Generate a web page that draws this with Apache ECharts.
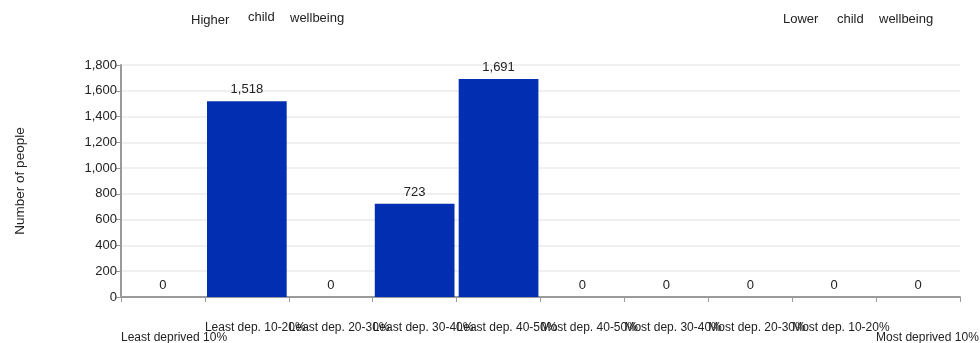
<!DOCTYPE html>
<html>
<head>
<meta charset="utf-8">
<style>html,body{margin:0;padding:0;background:#fff}#c{width:980px;height:343px}</style>
<script src="https://cdn.jsdelivr.net/npm/echarts@6/dist/echarts.min.js"></script>
</head>
<body>
<div id="c"></div>
<script>
const categories = ['Least deprived 10%','Least dep. 10-20%','Least dep. 20-30%','Least dep. 30-40%','Least dep. 40-50%','Most dep. 40-50%','Most dep. 30-40%','Most dep. 20-30%','Most dep. 10-20%','Most deprived 10%'];
const values = [0, 1518, 0, 723, 1691, 0, 0, 0, 0, 0];
const yTicks = [0, 200, 400, 600, 800, 1000, 1200, 1400, 1600, 1800];
const headerWords = [
  {text:'Higher', left:191, top:14},
  {text:'child', left:248, top:11},
  {text:'wellbeing', left:290, top:12},
  {text:'Lower', left:783, top:13},
  {text:'child', left:837, top:13},
  {text:'wellbeing', left:879, top:13}
];
const FONT = 'Arial, "Liberation Sans", sans-serif';
const fmt = v => v.toString().replace(/\B(?=(\d{3})+(?!\d))/g, ',');
const chart = echarts.init(document.getElementById('c'));
chart.setOption({
  animation: false,
  title: headerWords.map(w => ({text: w.text, left: w.left, top: w.top, padding: 0,
    textStyle: {fontSize: 13, fontWeight: 'normal', color: '#222', fontFamily: FONT}})),
  grid: {left: 121, right: 20, top: 65, bottom: 46, outerBoundsMode: 'none', containLabel: false},
  xAxis: [{
    type: 'category',
    position: 'bottom',
    data: categories.concat(['']),
    boundaryGap: false,
    axisLine: {lineStyle: {color: '#9a9a9a', width: 2}},
    axisTick: {show: true, length: 5, interval: 0, lineStyle: {color: '#9a9a9a'}},
    axisLabel: {
      interval: 0, align: 'left', margin: 25, color: '#222', fontSize: 12, fontFamily: FONT,
      hideOverlap: false,
      formatter: (v, i) => (i === 0 || i === categories.length - 1) ? '{lo|' + v + '}' : v,
      rich: {lo: {fontSize: 12, fontFamily: FONT, color: '#222', padding: [10, 0, 0, 0]}}
    },
    splitLine: {show: false}
  }, {
    type: 'category',
    position: 'top',
    data: categories,
    boundaryGap: true,
    axisLine: {show: false},
    axisTick: {show: false},
    axisLabel: {show: false},
    splitLine: {show: false}
  }],
  yAxis: {
    type: 'value',
    min: yTicks[0], max: yTicks[yTicks.length - 1], interval: 200,
    name: 'Number of people',
    nameLocation: 'middle',
    nameGap: 94,
    nameTextStyle: {fontSize: 13.5, color: '#222', fontFamily: FONT},
    axisLine: {show: true, lineStyle: {color: '#9a9a9a', width: 2}},
    axisTick: {show: true, length: 5, lineStyle: {color: '#9a9a9a'}},
    axisLabel: {margin: 4, color: '#222', fontSize: 13, fontFamily: FONT, formatter: v => fmt(v)},
    splitLine: {show: true, lineStyle: {color: '#ebebeb', width: 1.5}}
  },
  series: [{
    type: 'bar',
    xAxisIndex: 1,
    data: values,
    barCategoryGap: '5%',
    itemStyle: {color: '#022fb2'},
    label: {show: true, position: 'top', distance: 5, color: '#222', fontSize: 13, fontFamily: FONT,
      formatter: p => fmt(p.value)}
  }]
});
</script>
</body>
</html>
